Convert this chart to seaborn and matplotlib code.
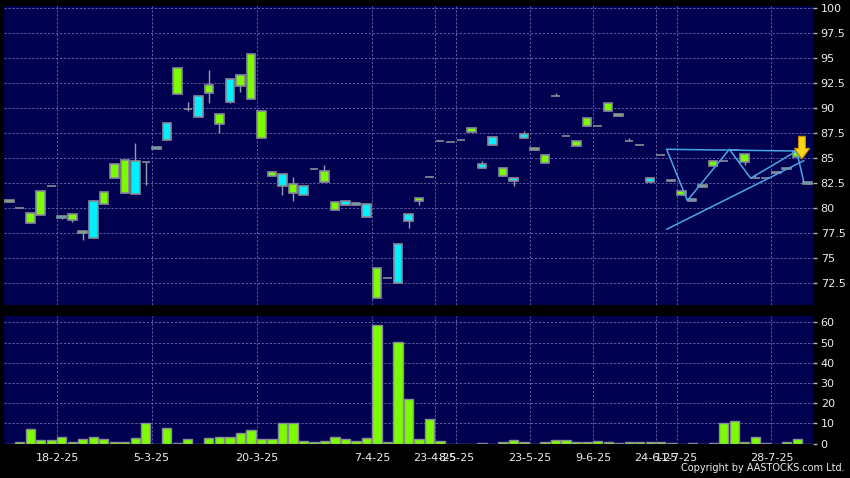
import numpy as np
import pandas as pd
import matplotlib
matplotlib.use("Agg")
import matplotlib.pyplot as plt
import seaborn as sns

# ---------------- data ----------------
opens = [80.8, 80.05, 79.5, 81.7, 82.25, 79.0, 79.4, 77.7, 77.0, 81.6,
         84.4, 84.8, 81.4, 84.63, 85.9, 86.8, 94.0, 89.97, 89.1, 92.3,
         89.4, 90.6, 93.3, 95.4, 89.73, 83.6, 82.23, 82.47, 81.3, 83.9,
         83.7, 80.63, 80.3, 80.3, 79.17, 74.0, 73.07, 72.5, 78.7, 81.0,
         83.13, 86.77, 86.67, 86.83, 88.0, 84.07, 86.3, 84.0, 82.77, 87.0,
         86.0, 85.3, 91.2, 87.2, 86.7, 89.0, 88.27, 90.5, 89.4, 86.7,
         86.37, 82.6, 85.3, 82.7, 81.7, 80.7, 82.3, 84.7, 84.7, 85.87,
         85.47, 83.0, 83.0, 83.67, 83.93, 85.77, 82.43]
closes = [80.6, 80.05, 78.5, 79.3, 82.25, 79.27, 78.8, 77.55, 80.7, 80.4,
          83.0, 81.5, 84.7, 84.63, 86.1, 88.5, 91.4, 89.97, 91.2, 91.5,
          88.4, 92.9, 92.27, 90.9, 87.0, 83.2, 83.43, 81.57, 82.23, 83.9,
          82.67, 79.8, 80.7, 80.5, 80.4, 71.0, 73.07, 76.4, 79.4, 80.73,
          83.13, 86.77, 86.67, 86.83, 87.6, 84.43, 87.1, 83.27, 83.0, 87.43,
          85.8, 84.5, 91.2, 87.2, 86.27, 88.2, 88.27, 89.7, 89.2, 86.7,
          86.37, 83.07, 85.3, 82.87, 81.3, 80.97, 82.1, 84.23, 84.7, 85.87,
          84.67, 83.0, 83.0, 83.5, 84.07, 85.17, 82.6]
highs = [80.8, 80.05, 79.5, 81.7, 82.25, 79.27, 79.4, 77.7, 80.8, 81.6,
         84.4, 84.8, 86.5, 84.63, 86.1, 88.5, 94.0, 90.6, 91.2, 93.83,
         89.4, 92.9, 93.3, 95.4, 89.73, 83.6, 83.43, 83.1, 82.23, 83.9,
         84.33, 80.63, 80.7, 80.5, 80.55, 74.0, 73.07, 76.4, 79.4, 81.0,
         83.25, 86.77, 86.67, 86.83, 88.0, 84.73, 87.1, 84.0, 83.0, 87.73,
         86.0, 85.3, 91.5, 87.2, 86.7, 89.0, 88.27, 90.5, 89.4, 87.0,
         86.37, 83.07, 85.3, 82.87, 81.7, 80.97, 82.3, 84.7, 84.7, 85.87,
         85.47, 83.4, 83.0, 83.67, 84.07, 85.77, 82.6]
lows = [80.6, 80.05, 78.5, 79.3, 82.25, 78.9, 78.6, 76.8, 77.0, 80.4,
        83.0, 81.5, 81.4, 82.3, 85.9, 86.8, 91.4, 89.7, 89.1, 90.57,
        87.57, 90.5, 91.67, 90.9, 87.0, 83.2, 81.33, 80.77, 81.3, 83.9,
        82.67, 79.8, 80.3, 80.3, 79.17, 71.0, 73.07, 72.5, 78.07, 80.33,
        83.13, 86.77, 86.67, 86.83, 87.6, 84.07, 86.3, 83.27, 82.27, 87.0,
        85.8, 84.5, 91.2, 87.2, 86.27, 88.2, 88.27, 89.7, 89.2, 86.7,
        86.37, 82.6, 85.3, 82.7, 81.3, 80.7, 82.1, 84.23, 84.7, 85.87,
        84.33, 83.0, 83.0, 83.5, 83.93, 85.17, 82.43]
volumes = [0, 0.8, 7.1, 1.7, 1.7, 3.0, 0.7, 2.3, 3.0, 2.3,
           0.5, 0.5, 2.7, 10.1, 0, 7.5, 0.3, 2.0, 0, 2.8,
           3.3, 3.0, 5.1, 6.6, 2.3, 2.0, 10.4, 10.0, 1.0, 0.5,
           1.3, 3.0, 2.3, 1.0, 2.7, 58.9, 0.5, 50.2, 22.2, 2.0,
           11.9, 1.0, 0, 0, 0, 0.3, 0, 0.5, 1.5, 0.5,
           0, 0.5, 1.8, 1.5, 0.5, 0.8, 1.0, 0.5, 0.3, 0.8,
           0.5, 0.5, 0.5, 0.3, 0, 0.3, 0, 0.3, 10.4, 11.1,
           0.5, 3.3, 0.3, 0, 0.5, 2.2, 0]

date_labels = ['18-2-25', '5-3-25', '20-3-25', '7-4-25', '23-4-25', '8-5-25',
               '23-5-25', '9-6-25', '24-6-25', '11-7-25', '28-7-25']
date_index = [5, 14, 24, 35, 41, 43, 50, 56, 62, 64, 73]

# triangle pattern annotation (candle index, price)
zigzag_x = [62.57, 64.54, 68.54, 70.57, 74.94, 75.64]
zigzag_y = [85.9, 80.77, 85.9, 83.0, 85.73, 82.57]
top_x = [62.57, 74.94]
top_y = [85.9, 85.73]
trend_x = [62.57, 75.64]
trend_y = [77.9, 84.77]
arrow_x = 75.45
arrow_from, arrow_to = 87.2, 84.95

price_ticks = [72.5, 75, 77.5, 80, 82.5, 85, 87.5, 90, 92.5, 95, 97.5, 100]
vol_ticks = [0, 10, 20, 30, 40, 50, 60]

# ---------------- styling ----------------
sns.set_style("dark")
plt.rcParams['font.family'] = ['DejaVu Sans']

BG = '#000050'
GREEN = '#7cfc00'
CYAN = '#00f0ff'
EDGE = '#8a8a9a'
GRID = '#5a5a9e'
GLS = (0, (2.2, 1.6))
TXT = '#ececec'

df = pd.DataFrame({'i': np.arange(len(opens)), 'open': opens, 'close': closes,
                   'high': highs, 'low': lows, 'vol': volumes})

W, H = 850, 478
fig = plt.figure(figsize=(W / 100, H / 100), dpi=100, facecolor='black')
axp = fig.add_axes([4 / W, 1 - 305 / H, 809 / W, 299 / H])
axv = fig.add_axes([4 / W, 1 - 443.5 / H, 809 / W, (443.5 - 315.7) / H])

grid_pos = [d - 0.45 for d in date_index]

for ax in (axp, axv):
    ax.set_facecolor(BG)
    for s in ax.spines.values():
        s.set_visible(False)
    ax.grid(False)
    for g in grid_pos:
        ax.axvline(g, color=GRID, lw=0.75, ls=GLS, zorder=0)

# ---- candles ----
up = df['close'] > df['open']
down = df['close'] < df['open']
colors = np.where(up, CYAN, np.where(down, GREEN, EDGE))
axp.vlines(df['i'], df['low'], df['high'], color='#9a9aaa', lw=1, zorder=2)
bottoms = np.minimum(df['open'], df['close'])
heights = np.abs(df['close'] - df['open'])
axp.bar(df['i'], heights, bottom=bottoms, width=0.82, color=colors,
        edgecolor=EDGE, linewidth=1.2, zorder=3)

for yv in price_ticks:
    axp.axhline(yv, color=GRID, lw=0.75, ls=GLS, zorder=0)

# pattern lines
lc = '#4aa6e6'
axp.plot(zigzag_x, zigzag_y, color=lc, lw=1.1, zorder=4)
axp.plot(top_x, top_y, color=lc, lw=1.1, zorder=4)
axp.plot(trend_x, trend_y, color=lc, lw=1.1, zorder=4)
axp.annotate('', xy=(arrow_x, arrow_to), xytext=(arrow_x, arrow_from),
             arrowprops=dict(arrowstyle='simple,head_width=1.1,head_length=0.75,tail_width=0.5',
                             fc='#f7d417', ec='#c88a00', lw=0.8,
                             shrinkA=0, shrinkB=0), zorder=6)

axp.set_xlim(-0.5, 76.5)
axp.set_ylim(70.33, 100.23)
axp.yaxis.tick_right()
axp.set_yticks(price_ticks)
axp.set_yticklabels(['%g' % v for v in price_ticks])
axp.set_xticks([])
axp.tick_params(axis='y', colors=TXT, labelsize=8, length=3, width=1, pad=2.5,
                labelcolor=TXT)
axp.tick_params(axis='y', color='#b0b0b0')

# ---- volume ----
sns.barplot(data=df, x='i', y='vol', ax=axv, color=GREEN, saturation=1,
            edgecolor=EDGE, linewidth=1, width=0.88, zorder=3, order=list(df['i']))
for yv in vol_ticks:
    axv.axhline(yv, color=GRID, lw=0.75, ls=GLS, zorder=0)
axv.set_xlim(-0.5, 76.5)
axv.set_ylim(0, 63.3)
axv.set_xlabel('')
axv.set_ylabel('')
axv.yaxis.tick_right()
axv.set_yticks(vol_ticks)
axv.set_yticklabels([str(v) for v in vol_ticks])
axv.set_xticks(grid_pos)
axv.set_xticklabels(date_labels)
axv.tick_params(axis='both', labelcolor=TXT, labelsize=8, length=3, width=1,
                color='#b0b0b0', pad=2.5)
axv.tick_params(axis='x', pad=3.5)

fig.text(0.994, 0.01, 'Copyright by AASTOCKS.com Ltd.', ha='right', va='bottom',
         fontsize=7, color=TXT)

fig.savefig('out.png', dpi=100, facecolor='black')
